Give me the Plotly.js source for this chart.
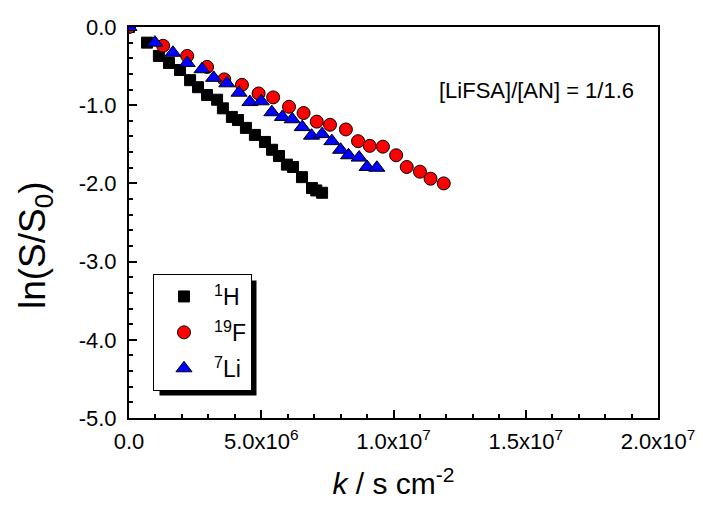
<!DOCTYPE html>
<html>
<head>
<meta charset="utf-8">
<script src="https://cdn.plot.ly/plotly-3.0.1.min.js"></script>
<style>html,body{margin:0;padding:0;background:#fff;}#chart{width:703px;height:508px;}</style>
</head>
<body>
<div id="chart"></div>
<script>
// 1H (black squares)
const kH = [0, 0.68e6, 1.13e6, 1.51e6, 1.93e6, 2.31e6, 2.61e6, 2.95e6, 3.33e6, 3.55e6, 3.89e6, 4.12e6, 4.42e6, 4.76e6, 5.14e6, 5.41e6, 5.67e6, 5.97e6, 6.2e6, 6.54e6, 6.92e6, 7.08e6, 7.3e6];
const lnH = [0, -0.20, -0.37, -0.46, -0.55, -0.68, -0.77, -0.87, -0.93, -1.04, -1.15, -1.19, -1.29, -1.38, -1.47, -1.57, -1.65, -1.76, -1.79, -1.92, -2.06, -2.09, -2.12];
// 19F (red circles)
const kF = [0, 1.29e6, 2.2e6, 2.95e6, 3.6e6, 4.27e6, 4.9e6, 5.45e6, 6.05e6, 6.6e6, 7.1e6, 7.6e6, 8.2e6, 8.66e6, 9.1e6, 9.6e6, 10.1e6, 10.5e6, 11.0e6, 11.4e6, 11.9e6];
const lnF = [0, -0.24, -0.37, -0.51, -0.67, -0.74, -0.85, -0.90, -1.02, -1.10, -1.21, -1.25, -1.31, -1.46, -1.52, -1.53, -1.64, -1.79, -1.85, -1.94, -2.00];
// 7Li (blue triangles)
const kLi = [0, 0.98e6, 1.66e6, 2.2e6, 2.76e6, 3.2e6, 3.7e6, 4.16e6, 4.57e6, 5.0e6, 5.4e6, 5.8e6, 6.17e6, 6.55e6, 6.9e6, 7.3e6, 7.67e6, 8.0e6, 8.3e6, 8.7e6, 9.0e6, 9.37e6];
const lnLi = [0, -0.20, -0.33, -0.46, -0.54, -0.65, -0.72, -0.84, -0.96, -0.95, -1.09, -1.15, -1.18, -1.28, -1.39, -1.37, -1.46, -1.57, -1.64, -1.67, -1.79, -1.80];

const seriesNames = ['<sup>1</sup>H', '<sup>19</sup>F', '<sup>7</sup>Li'];
const xTickVals = [0, 5e6, 1e7, 1.5e7, 2e7];
const xTickText = ['0.0', '5.0x10<sup>6</sup>', '1.0x10<sup>7</sup>', '1.5x10<sup>7</sup>', '2.0x10<sup>7</sup>'];
const yTickVals = [0, -1, -2, -3, -4, -5];
const yTickText = ['0.0', '-1.0', '-2.0', '-3.0', '-4.0', '-5.0'];
const noteText = '[LiFSA]/[AN] = 1/1.6';
const xTitle = '<i>k</i> / s cm<sup>-2</sup>';
const yTitle = 'ln(S/S<sub>0</sub>)';

const FONT = 'Arial, "Liberation Sans", sans-serif';

const traces = [
  {x: kH, y: lnH, name: seriesNames[0], legendgroup: 'a', mode: 'markers', type: 'scatter',
   marker: {symbol: 'square', size: 11, color: '#000000', line: {color: '#000000', width: 1}}},
  {x: kF, y: lnF, name: seriesNames[1], legendgroup: 'b', mode: 'markers', type: 'scatter',
   marker: {symbol: 'circle', size: 13, color: '#ff0000', line: {color: '#000000', width: 1}}},
  {x: kLi, y: lnLi, name: seriesNames[2], legendgroup: 'c', mode: 'markers', type: 'scatter',
   marker: {symbol: 'triangle-up', size: 14, color: '#0000ff', line: {color: '#000000', width: 1}}}
];

const W = 703, H = 508, L = 129, R = 45, T = 27, B = 90;
const pw = W - L - R, ph = H - T - B;
function px(x) { return (x - L) / pw; }
function py(y) { return (H - B - y) / ph; }

const layout = {
  width: W, height: H,
  margin: {l: L, r: R, t: T, b: B, pad: 0},
  paper_bgcolor: '#ffffff', plot_bgcolor: '#ffffff',
  font: {family: FONT, color: '#000000', size: 22},
  showlegend: true,
  legend: {
    x: px(153), y: py(274), xanchor: 'left', yanchor: 'top',
    bgcolor: '#ffffff', bordercolor: '#000000', borderwidth: 1,
    font: {family: FONT, size: 23, color: '#000000'},
    tracegroupgap: 3, itemwidth: 50
  },
  xaxis: {
    range: [0, 2e7], tickmode: 'array', tickvals: xTickVals, ticktext: xTickText,
    showgrid: false, zeroline: false, showline: true, linecolor: '#000000', linewidth: 2, mirror: true,
    ticks: 'inside', ticklen: 8, tickwidth: 2, tickcolor: '#000000', ticklabelstandoff: 3,
    tickfont: {family: FONT, size: 22, color: '#000000'},
    minor: {dtick: 1e6, ticks: 'inside', ticklen: 4, tickwidth: 2, tickcolor: '#000000', showgrid: false},
    title: {text: xTitle, font: {family: FONT, size: 30, color: '#000000'}, standoff: 20}
  },
  yaxis: {
    range: [-5, 0], tickmode: 'array', tickvals: yTickVals, ticktext: yTickText,
    showgrid: false, zeroline: false, showline: true, linecolor: '#000000', linewidth: 2, mirror: true,
    ticks: 'inside', ticklen: 8, tickwidth: 2, tickcolor: '#000000', ticklabelstandoff: 6,
    tickfont: {family: FONT, size: 22, color: '#000000'},
    minor: {dtick: 0.2, ticks: 'inside', ticklen: 4, tickwidth: 2, tickcolor: '#000000', showgrid: false},
    title: {text: ''}
  },
  annotations: [
    {xref: 'paper', yref: 'paper', x: px(536), y: py(90), xanchor: 'center', yanchor: 'middle',
     text: noteText, showarrow: false, font: {family: FONT, size: 22, color: '#000000'}},
    {xref: 'paper', yref: 'paper', x: px(35), y: py(245), xanchor: 'center', yanchor: 'middle',
     text: yTitle, textangle: -90, showarrow: false, font: {family: FONT, size: 37, color: '#000000'}}
  ]
};

Plotly.newPlot('chart', traces, layout, {displayModeBar: false}).then(function (gd) {
  const bg = gd.querySelector('.legend .bg');
  const host = gd.getBoundingClientRect();
  if (bg) {
    const r = bg.getBoundingClientRect();
    const x0 = r.left - host.left + 6, x1 = r.right - host.left + 5;
    const y0 = r.top - host.top + 6, y1 = r.bottom - host.top + 5;
    return Plotly.relayout(gd, {shapes: [{
      type: 'rect', xref: 'paper', yref: 'paper', layer: 'above',
      x0: px(x0), x1: px(x1), y0: py(y1), y1: py(y0),
      fillcolor: '#000000', line: {width: 0}
    }]});
  }
});
</script>
</body>
</html>
